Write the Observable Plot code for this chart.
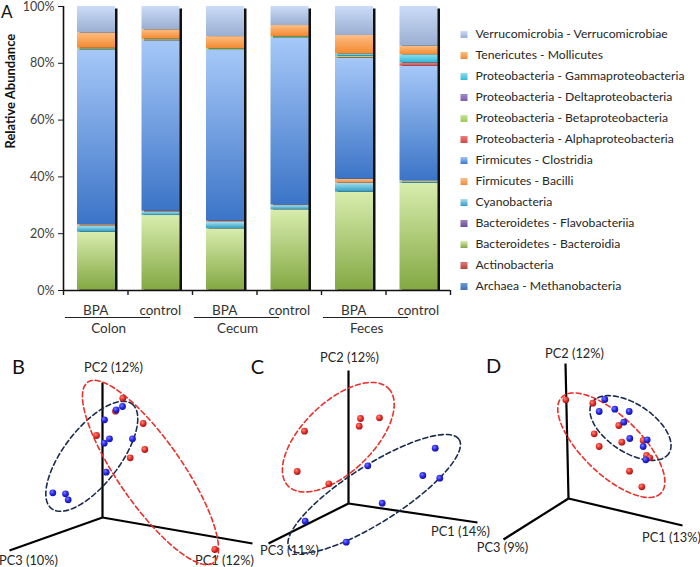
<!DOCTYPE html>
<html><head><meta charset="utf-8">
<script src="https://cdn.jsdelivr.net/npm/d3@7"></script>
<script src="https://cdn.jsdelivr.net/npm/@observablehq/plot@0.6"></script>
<style>
body{margin:0;background:#fff;}
#wrap{position:relative;width:700px;height:567px;overflow:hidden;font-family:Lato,sans-serif;}
#wrap > svg, #wrap > div{position:absolute;}
.letter{font-size:17px;line-height:17px;color:#111;}
</style></head><body><div id="wrap"></div>
<script>
// ---------- Panel A data ----------
const categories = ["Colon BPA","Colon control","Cecum BPA","Cecum control","Feces BPA","Feces control"];
const tickLabels = ["BPA","control","BPA","control","BPA","control"];
const groups = ["Colon","Cecum","Feces"];
// stack order, bottom -> top
const taxa = [
  "Archaea - Methanobacteria","Actinobacteria","Bacteroidetes - Bacteroidia","Bacteroidetes - Flavobacteriia",
  "Cyanobacteria","Firmicutes - Bacilli","Firmicutes - Clostridia","Proteobacteria - Alphaproteobacteria",
  "Proteobacteria - Betaproteobacteria","Proteobacteria - Deltaproteobacteria","Proteobacteria - Gammaproteobacteria",
  "Tenericutes - Mollicutes","Verrucomicrobia - Verrucomicrobiae"];
const methanobacteria   = [0.05, 0.05, 0.05, 0.05, 0.05, 0.05];
const actinobacteria    = [0.1, 0.1, 0.1, 0.1, 0.1, 0.1];
const bacteroidia       = [20.35, 26.25, 21.55, 28.25, 34.45, 37.65];
const flavobacteriia    = [0.05, 0.05, 0.05, 0.05, 0.05, 0.05];
const cyanobacteria     = [2.2, 1.2, 2.25, 1.45, 3.15, 0.6];
const bacilli           = [0.4, 0.25, 0.35, 0.2, 1.4, 0.25];
const clostridia        = [61.5, 60.0, 60.15, 58.7, 42.6, 40.3];
const alphaproteo       = [0.05, 0.05, 0.05, 0.05, 0.2, 0.9];
const betaproteo        = [0.4, 0.35, 0.4, 0.4, 0.5, 0.1];
const deltaproteo       = [0.05, 0.05, 0.05, 0.05, 0.05, 0.2];
const gammaproteo       = [0.15, 0.15, 0.15, 0.15, 0.75, 2.8];
const mollicutes        = [5.4, 3.3, 4.25, 3.85, 6.5, 3.0];
const verrucomicrobiae  = [9.3, 8.2, 10.6, 6.7, 10.2, 14.0];
const series = [methanobacteria, actinobacteria, bacteroidia, flavobacteriia, cyanobacteria, bacilli,
  clostridia, alphaproteo, betaproteo, deltaproteo, gammaproteo, mollicutes, verrucomicrobiae];
const yTicks = [0, 20, 40, 60, 80, 100];

// gradient colours (top, bottom) per taxon, same order as taxa
const taxonColors = [
  ["#6f9ad6","#3d6fb0"],["#e07a78","#b8413e"],["#d8edae","#84a843"],["#9a82c0","#6a4e94"],
  ["#a9dff0","#2f9ec3"],["#fcc08e","#ee8a3a"],["#a6c8f8","#3b74c7"],["#f08080","#d04545"],
  ["#c9e59a","#9cc75c"],["#a28ccc","#7a5fa8"],["#8fe0f0","#2fb8d6"],["#fdbd84","#f38a30"],["#cbdcf8","#9aaed2"]];

// ---------- Panels B-D data (page coordinates) ----------
const panelLetters = [["B",18,367],["C",257,367],["D",493,366]];
// axis: panel, label, origin x,y, end x,y, label x,y
const pcaAxes = [
  ["B","PC2 (12%)",102,517,102,382,113,367],
  ["B","PC3 (10%)",102,517,9,550,28,560],
  ["B","PC1 (12%)",102,517,252,543,224,560],
  ["C","PC2 (12%)",348,503,348,370,349,357],
  ["C","PC1 (14%)",348,503,477,522,460,531],
  ["C","PC3 (11%)",348,503,268,543,289,550],
  ["D","PC2 (12%)",568,498,565,363,574,353],
  ["D","PC1 (13%)",568,498,682,525,671,537],
  ["D","PC3 (9%)",568,498,503,539,502,547]];
const panelB_BPA = [[122.3,397.7],[115,410.7],[142.7,423],[96,435],[144.3,449],[129.7,457.3],[214.3,549]];
const panelB_control = [[52.3,492.3],[65,493.3],[67.7,499.3],[104,419.3],[109,438.3],[103.7,442.7],[132,438.3],[105.7,471.7],[115.7,409.3],[122,406]];
const panelC_BPA = [[304,430.7],[296.7,471],[328.3,483.3],[360,418],[358.7,425.7],[379,417.3]];
const panelC_control = [[434.7,447.7],[439.3,477.7],[422.3,475],[367.3,465.3],[381.7,502.7],[304.7,520.7],[345.7,541.7]];
const panelD_BPA = [[565.3,399.3],[592.3,402.7],[618.3,425],[593.7,433.3],[598.7,446],[621.3,441.7],[642.7,440],[646,455],[649.3,457.3],[629,470.7],[641.3,486.3]];
const panelD_control = [[604.3,399],[598.7,411],[614.3,408.7],[628.7,411],[623.3,421.7],[629.3,438],[646.7,439.3],[642.7,446],[645.3,459.3]];
// ellipses: id, group, cx, cy, semi-major, semi-minor, angle(deg)
const ellipses = [
  ["B-control","control",91.3,455.8,66,28,-52.4],
  ["B-BPA","BPA",150,472,110,32,55.2],
  ["C-BPA","BPA",337.8,436.7,70,35,-44],
  ["C-control","control",373.7,493.3,100.8,28.3,-32.6],
  ["D-BPA","BPA",610.8,444.7,69,29,44],
  ["D-control","control",630,427.5,46,24,33.6]];

// ---------- gradients ----------
const wrap = d3.select("#wrap");
const defs = wrap.append("svg").attr("width",0).attr("height",0).style("left",0).style("top",0).append("defs");
taxonColors.forEach((c,k)=>{
  const g = defs.append("linearGradient").attr("id","g"+k).attr("x1",0).attr("y1",0).attr("x2",0).attr("y2",1);
  g.append("stop").attr("offset","0%").attr("stop-color",c[0]);
  g.append("stop").attr("offset","100%").attr("stop-color",c[1]);
});
[["dotRed","#ff8a7a","#e3332b","#a81414"],["dotBlue","#7c7cff","#2a2ae8","#1212a0"]].forEach(([id,a,b,c])=>{
  const g = defs.append("radialGradient").attr("id",id).attr("cx","0.38").attr("cy","0.35").attr("r","0.65");
  g.append("stop").attr("offset","0%").attr("stop-color",a);
  g.append("stop").attr("offset","55%").attr("stop-color",b);
  g.append("stop").attr("offset","100%").attr("stop-color",c);
});

// ---------- Panel A ----------
const stacked = [], totals = [];
categories.forEach((cat,i)=>{
  let cum = 0;
  taxa.forEach((t,k)=>{ const v = series[k][i]; stacked.push({i,cat,k,taxon:t,y1:cum,y2:cum+v}); cum += v; });
  totals.push({i,total:cum});
});
const baseStyle = {background:"transparent", fontFamily:"Lato, sans-serif", color:"#1a1a1a", fontSize:"12px", overflow:"visible"};
const plotA = Plot.plot({
  width:460, height:340, marginLeft:63, marginRight:10, marginTop:6, marginBottom:50,
  style: baseStyle,
  x:{domain:[0,categories.length]},
  y:{domain:[0,100]},
  color:{type:"identity"},
  marks:[
    Plot.rect(totals,{x1:"i",x2:d=>d.i+1,y1:0,y2:"total",insetLeft:16.5,insetRight:10,insetTop:2.5,fill:"#111"}),
    Plot.rect(stacked,{x1:"i",x2:d=>d.i+1,y1:"y1",y2:"y2",insetLeft:14,insetRight:12.5,fill:d=>`url(#g${d.k})`}),
    Plot.ruleY([0],{stroke:"#111",strokeWidth:1.6}),
    Plot.ruleX([0],{y1:0,y2:100,stroke:"#111",strokeWidth:1.6}),
    Plot.axisY({ticks:yTicks,tickFormat:d=>d+"%",tickSize:5,tickPadding:4,fontSize:12.5,label:null,fill:"#404040"}),
    Plot.axisX({ticks:d3.range(categories.length+1),tickFormat:()=>"",tickSize:5,label:null,strokeWidth:1.4}),
    Plot.text(categories,{x:(d,i)=>i+0.5,y:0,dy:20,text:(d,i)=>tickLabels[i],fontSize:13.5,fill:"#333"}),
    Plot.ruleY(groups,{x1:(d,i)=>2*i+0.03,x2:(d,i)=>2*i+1.35,y:0,dy:27,stroke:"#222",strokeWidth:1.1}),
    Plot.text(groups,{x:(d,i)=>2*i+0.7,y:0,dy:38,text:d=>d,fontSize:13.5,fill:"#333"}),
    Plot.text(["Relative Abundance"],{frameAnchor:"left",dx:-53,rotate:-90,fontWeight:"bold",fontSize:13,fill:"#111"})
  ]
});
plotA.style.left="0px"; plotA.style.top="0px";
wrap.node().appendChild(plotA);

// ---------- Legend ----------
const legendOrder = taxa.slice().reverse();
const legend = Plot.plot({
  width:245, height:320, margin:0,
  style: baseStyle,
  y:{type:"point",domain:legendOrder,range:[17,302],axis:null},
  color:{type:"identity"},
  marks:[
    Plot.dot(legendOrder,{y:d=>d,frameAnchor:"left",dx:8.5,symbol:"square",r:3.95,fill:d=>`url(#g${taxa.indexOf(d)})`}),
    Plot.text(legendOrder,{y:d=>d,frameAnchor:"left",dx:20,text:d=>d,textAnchor:"start",fontSize:12.2,fill:"#262626"})
  ]
});
legend.style.left="455px"; legend.style.top="0px";
wrap.node().appendChild(legend);

// ---------- Panels B-D ----------
const pts = [];
[["B",panelB_BPA,"BPA"],["B",panelB_control,"control"],["C",panelC_BPA,"BPA"],["C",panelC_control,"control"],["D",panelD_BPA,"BPA"],["D",panelD_control,"control"]]
  .forEach(([p,arr,g])=>arr.forEach(([x,y])=>pts.push({panel:p,group:g,x,y})));
const ellipsePts = [];
ellipses.forEach(([id,g,cx,cy,a,b,ang])=>{
  const th = ang*Math.PI/180;
  for (let s=0;s<=120;s++){
    const t = s/120*2*Math.PI;
    ellipsePts.push({id,group:g,
      x: cx + a*Math.cos(t)*Math.cos(th) - b*Math.sin(t)*Math.sin(th),
      y: cy + a*Math.cos(t)*Math.sin(th) + b*Math.sin(t)*Math.cos(th)});
  }
});
const pca = Plot.plot({
  width:700, height:237, margin:0,
  style: baseStyle,
  x:{domain:[0,700],axis:null},
  y:{domain:[567,330],axis:null},
  color:{type:"identity"},
  marks:[
    Plot.link(pcaAxes,{x1:d=>d[2],y1:d=>d[3],x2:d=>d[4],y2:d=>d[5],stroke:"#000",strokeWidth:2.2}),
    Plot.text(pcaAxes,{x:d=>d[6],y:d=>d[7],text:d=>d[1],fontSize:12.8,fill:"#262626"}),
    Plot.text(panelLetters,{x:d=>d[1],y:d=>d[2],text:d=>d[0],fontSize:20,fill:"#111"}),
    Plot.line(ellipsePts,{x:"x",y:"y",z:"id",stroke:d=>d.group==="BPA"?"#e8302c":"#1b2b4d",strokeWidth:1.6,strokeDasharray:"5,3"}),
    Plot.dot(pts,{x:"x",y:"y",r:3.4,fill:d=>d.group==="BPA"?"url(#dotRed)":"url(#dotBlue)"})
  ]
});
pca.style.left="0px"; pca.style.top="330px";
wrap.node().appendChild(pca);

// panel letter A
wrap.append("div").attr("class","letter").style("left","1px").style("top","3px").text("A");
</script>
</body></html>
